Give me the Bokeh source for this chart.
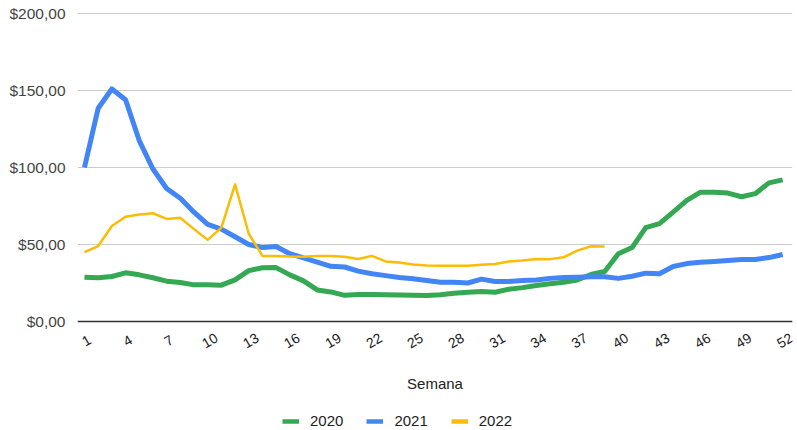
import math
from bokeh.plotting import figure
from bokeh.models import FixedTicker, Legend, LegendItem, Range1d, Span, Label
from bokeh.core.properties import value
from bokeh.embed import file_html
from bokeh.resources import INLINE

weeks = [1, 2, 3, 4, 5, 6, 7, 8, 9, 10, 11, 12, 13, 14, 15, 16, 17, 18, 19, 20,
         21, 22, 23, 24, 25, 26, 27, 28, 29, 30, 31, 32, 33, 34, 35, 36, 37, 38, 39, 40,
         41, 42, 43, 44, 45, 46, 47, 48, 49, 50, 51, 52]

v2020 = [28.8, 28.4, 29.2, 31.6, 30.3, 28.4, 26.2, 25.3, 23.8, 23.8,
         23.6, 27.0, 33.0, 34.9, 35.0, 30.3, 26.4, 20.5, 19.2, 17.0,
         17.6, 17.5, 17.3, 17.2, 17.0, 16.9, 17.4, 18.4, 19.0, 19.5,
         19.0, 21.0, 22.0, 23.4, 24.5, 25.5, 27.0, 30.5, 32.5, 44.0,
         48.0, 61.0, 63.5, 71.0, 78.6, 84.0, 84.0, 83.4, 81.0, 83.0,
         90.0, 92.0]

v2021 = [100.0, 138.5, 151.0, 144.0, 117.5, 99.0, 86.4, 80.0, 71.0, 63.0,
         60.0, 55.0, 50.0, 48.0, 48.7, 44.0, 41.3, 38.6, 35.8, 35.4,
         32.7, 31.0, 29.8, 28.6, 27.8, 26.6, 25.5, 25.5, 25.0, 27.5,
         26.0, 26.0, 26.6, 27.0, 28.0, 28.6, 28.8, 29.0, 29.0, 28.0,
         29.4, 31.4, 31.0, 35.7, 37.6, 38.5, 39.0, 39.6, 40.3, 40.3,
         41.5, 43.5]

weeks_2022 = [1, 2, 3, 4, 5, 6, 7, 8, 9, 10, 11, 12, 13, 14, 15, 16, 17, 18, 19, 20,
              21, 22, 23, 24, 25, 26, 27, 28, 29, 30, 31, 32, 33, 34, 35, 36, 37, 38, 39]
v2022 = [45.0, 49.0, 62.0, 68.0, 69.5, 70.3, 66.6, 67.3, 60.0, 53.0,
         61.0, 89.0, 57.0, 42.6, 42.6, 42.2, 42.0, 42.6, 42.6, 42.0,
         40.6, 42.6, 39.0, 38.3, 37.0, 36.4, 36.2, 36.2, 36.2, 36.8,
         37.4, 39.0, 39.6, 40.6, 40.5, 41.7, 46.0, 48.9, 48.7]

x_ticks = [1, 4, 7, 10, 13, 16, 19, 22, 25, 28, 31, 34, 37, 40, 43, 46, 49, 52]
x_tick_labels = ["1", "4", "7", "10", "13", "16", "19", "22", "25", "28",
                 "31", "34", "37", "40", "43", "46", "49", "52"]
y_ticks = [0, 50, 100, 150, 200]
y_tick_labels = ["$0,00", "$50,00", "$100,00", "$150,00", "$200,00"]
x_title = "Semana"
series_names = ["2020", "2021", "2022"]
colors = ["#34A853", "#4285F4", "#FBBC04"]
FONT = "Liberation Sans"

W, H = 797, 430
LEFT, RIGHT, TOP = 77, 5, 11
TOP_Y = 13                        # pixel row of the value 200 line
ZERO_Y = 321                      # pixel row of the value 0 line
px_per_unit = (ZERO_Y - TOP_Y) / 200
y_top = 200 + (TOP_Y - TOP) / px_per_unit
y_bottom = -(H - ZERO_Y) / px_per_unit    # room below the axis for labels/legend

p = figure(width=W, height=H, output_backend="svg", toolbar_location=None,
           x_range=Range1d(0.49, 52.72), y_range=Range1d(y_bottom, y_top),
           x_axis_location=None,
           min_border_left=LEFT, min_border_right=RIGHT, min_border_top=TOP,
           min_border_bottom=0)
p.outline_line_color = None
p.background_fill_color = "white"
p.border_fill_color = "white"

p.xgrid.visible = False
p.ygrid.grid_line_color = "#cccccc"
p.ygrid.grid_line_width = 1

p.yaxis.ticker = FixedTicker(ticks=y_ticks)
p.yaxis.major_label_overrides = {t: lab for t, lab in zip(y_ticks, y_tick_labels)}
p.yaxis.axis_line_color = None
p.yaxis.major_tick_line_color = None
p.yaxis.minor_tick_line_color = None
p.yaxis.major_label_text_font = FONT
p.yaxis.major_label_text_font_size = "15.5px"
p.yaxis.major_label_text_color = "#444444"
p.yaxis.major_label_standoff = 6

# baseline at 0
p.add_layout(Span(location=0, dimension="width", line_color="#333333", line_width=1.6))

# x tick labels (rotated), placed through the x scale
p.text(x=x_ticks, y=[0] * len(x_ticks), text=x_tick_labels,
       angle=math.pi / 6, x_offset=2, y_offset=19,
       text_align="center", text_baseline="middle",
       text_font=value(FONT), text_font_size="14px", text_color="#222222")

r2020 = p.line(weeks, v2020, line_width=5, color=colors[0], line_join="round")
r2021 = p.line(weeks, v2021, line_width=5, color=colors[1], line_join="round")
r2022 = p.line(weeks_2022, v2022, line_width=2.5, color=colors[2], line_join="round")

# axis title, centred on the plot area
p.add_layout(Label(x=(W - LEFT - RIGHT) / 2, y=H - 383, x_units="screen", y_units="screen",
                   text=x_title, text_align="center", text_baseline="middle",
                   text_font=FONT, text_font_size="15px", text_color="#222222"))

# legend swatches: equal-thickness lines (no visible data)
items = []
for name, c in zip(series_names, colors):
    r = p.line(x=[float("nan")], y=[float("nan")], line_width=4.5, color=c, line_cap="butt")
    items.append(LegendItem(label=name, renderers=[r]))

legend = Legend(items=items, orientation="horizontal", location=(282 - LEFT, 1),
                glyph_width=17, glyph_height=16, label_height=16,
                label_standoff=11, spacing=23, padding=0, margin=0,
                border_line_color=None, background_fill_alpha=0,
                label_text_font=FONT, label_text_font_size="15px",
                label_text_color="#222222")
p.add_layout(legend, "center")

open("out.html", "w").write(file_html(p, INLINE))
